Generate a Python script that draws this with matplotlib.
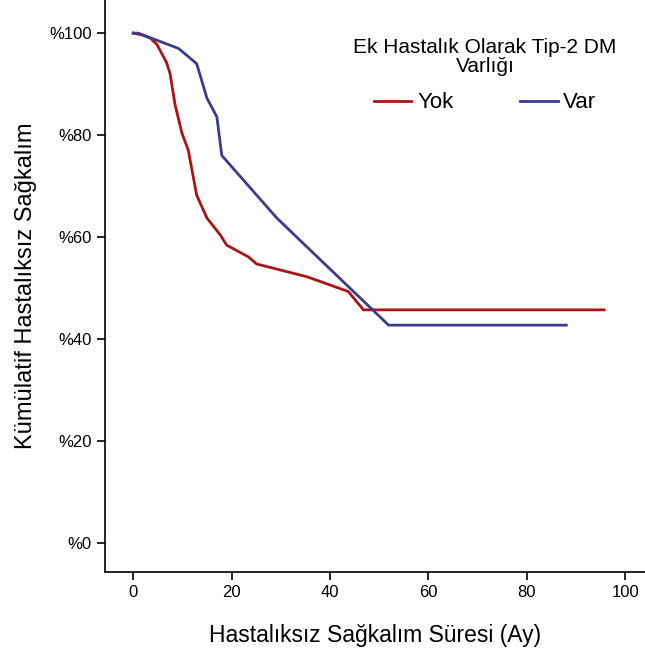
import matplotlib
matplotlib.use("Agg")
from matplotlib import pyplot as plt

plt.rcParams['font.family'] = ['Liberation Sans', 'DejaVu Sans']

# survival curves (months, percent)
yok_t = [0, 2, 3.5, 4.8, 5.8, 6.8, 7.5, 8.5, 9.9, 11.2, 12.9, 15.0, 17.7, 19.0, 23.4, 25.1, 35.3, 43.7, 46.8, 95.7]
yok_s = [100, 99.6, 99, 97.8, 96, 94.2, 92, 86, 80.4, 77, 68.2, 63.7, 60.4, 58.4, 56.1, 54.7, 52.2, 49.3, 45.7, 45.7]
var_t = [0, 1, 9.2, 12.9, 15.0, 17.0, 18.0, 29.2, 51.9, 88.0]
var_s = [100, 100, 97, 94, 87.2, 83.6, 76, 63.7, 42.7, 42.7]

x_ticks = [0, 20, 40, 60, 80, 100]
y_ticks = [0, 20, 40, 60, 80, 100]
y_labels = ["%0", "%20", "%40", "%60", "%80", "%100"]

fig = plt.figure(figsize=(6.45, 6.55), dpi=100)
ax = fig.add_axes([0.163, 0.127, 0.837, 0.873])

ax.plot(yok_t, yok_s, color="#AA1414", lw=2, label="Yok")
ax.plot(var_t, var_s, color="#3C3C8C", lw=2, label="Var")

ax.set_xlim(-5.7, 104)
ax.set_ylim(-5.7, 106.5)
ax.set_xticks(x_ticks)
ax.set_yticks(y_ticks)
ax.set_yticklabels(y_labels)
ax.tick_params(labelsize=12, length=6, width=1.2)
ax.spines['top'].set_visible(False)
ax.spines['right'].set_visible(False)
ax.spines['left'].set_linewidth(1.2)
ax.spines['bottom'].set_linewidth(1.2)

ax.set_xlabel("Hastalıksız Sağkalım Süresi (Ay)", fontsize=16.5, labelpad=17)
ax.set_ylabel("Kümülatif Hastalıksız Sağkalım", fontsize=17, labelpad=9)

leg = ax.legend(title="Ek Hastalık Olarak Tip-2 DM\nVarlığı", ncol=2, frameon=False,
                fontsize=16, title_fontsize=15, loc="upper center",
                bbox_to_anchor=(0.752, 0.973), bbox_transform=fig.transFigure,
                columnspacing=3, handlelength=1.7, handletextpad=0.25,
                labelspacing=0.75)
leg.get_title().set_multialignment("center")
leg.get_title().set_linespacing(1.0)

fig.savefig("out.png", dpi=100)
